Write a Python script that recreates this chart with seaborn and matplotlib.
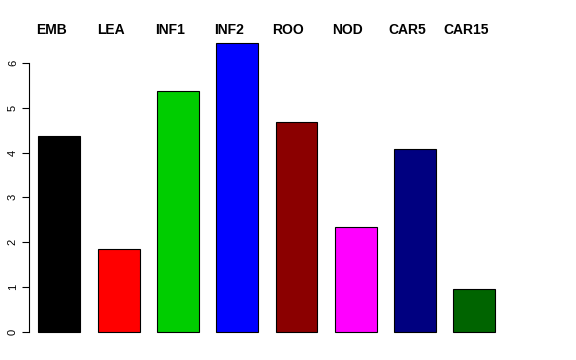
import matplotlib
matplotlib.use("Agg")
import matplotlib.pyplot as plt
import seaborn as sns

tissues = ["EMB", "LEA", "INF1", "INF2", "ROO", "NOD", "CAR5", "CAR15"]
values = [4.37, 1.85, 5.38, 6.45, 4.69, 2.34, 4.08, 0.95]
bar_colors = ["#000000", "#FF0000", "#00CD00", "#0000FF",
              "#8B0000", "#FF00FF", "#000080", "#006400"]
y_ticks = [0, 1, 2, 3, 4, 5, 6]

sns.set_style("white")
plt.rcParams["font.family"] = ["Liberation Sans", "DejaVu Sans"]
plt.rcParams["text.color"] = "black"
plt.rcParams["ytick.color"] = "black"
plt.rcParams["ytick.labelcolor"] = "black"

W, H = 576, 360
fig = plt.figure(figsize=(W / 100, H / 100), dpi=100)
# axes box in pixels: left 29, right 520, top 31, bottom 343
ax = fig.add_axes([29 / W, (H - 343) / H, (520 - 29) / W, (343 - 31) / H])

sns.barplot(x=tissues, y=values, hue=tissues, palette=bar_colors,
            width=0.708, edgecolor="black", linewidth=0.8,
            saturation=1, legend=False, ax=ax)

ax.set_xlim(-0.511, 7.769)
ax.set_ylim(-0.257, 6.72)

for side in ["top", "right", "bottom"]:
    ax.spines[side].set_visible(False)
ax.spines["left"].set_bounds(0, 6)
ax.spines["left"].set_linewidth(0.8)
ax.spines["left"].set_color("black")

ax.set_xticks([])
ax.set_yticks(y_ticks)
ax.set_yticklabels([str(t) for t in y_ticks], rotation=90, va="center",
                   fontsize=8, color="black")
ax.tick_params(axis="y", left=True, length=5, width=0.8, pad=3,
               color="black")
ax.set_xlabel("")
ax.set_ylabel("")

for i, name in enumerate(tissues):
    ax.text(i - 0.135, 0.990, name, transform=ax.get_xaxis_transform(),
            ha="center", va="baseline", fontsize=10, fontweight="bold",
            color="black")

fig.savefig("out.png", dpi=100)
